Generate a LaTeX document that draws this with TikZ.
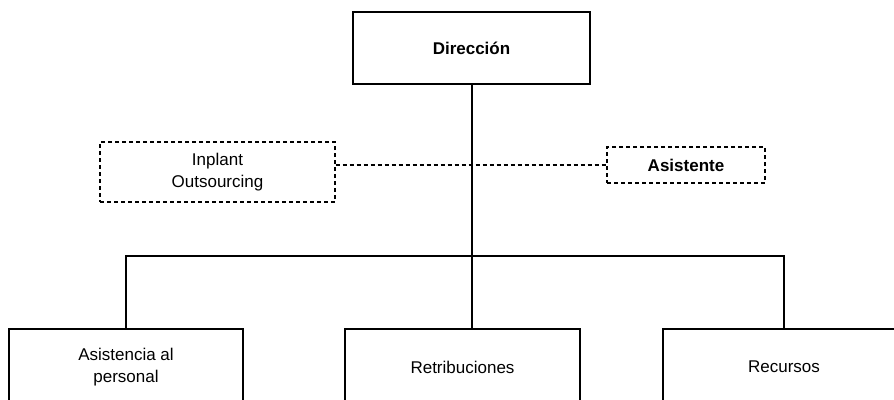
\documentclass[tikz,border=0pt]{standalone}
\usepackage{fontspec}
\setmainfont{Liberation Sans}
\begin{document}
\begin{tikzpicture}[x=1pt,y=-1pt,
  solidbox/.style={draw, line width=2pt, inner sep=0pt, align=center,
    font=\fontsize{17}{21.5}\selectfont},
  dashbox/.style={draw, line width=1.3pt, dash pattern=on 4pt off 3pt,
    inner sep=0pt, align=center, font=\fontsize{17}{21.5}\selectfont},
  link/.style={line width=2pt},
  dashlink/.style={line width=1.3pt, dash pattern=on 4pt off 3pt}]
  \useasboundingbox (0,0) rectangle (894,399);
  \clip (0,0) rectangle (894,399);
  % top box
  \node[solidbox, minimum width=237pt, minimum height=72pt] (dir) at (471.5,48) {\textbf{Dirección}};
  % staff units drawn with dashed outlines
  \node[dashbox, minimum width=235pt, minimum height=60pt] (inp) at (217.5,172) {Inplant\\Outsourcing};
  \node[dashbox, minimum width=158pt, minimum height=36pt] (asi) at (686,165) {\textbf{Asistente}};
  % lower departments (run past the lower edge)
  \node[solidbox, minimum width=234pt, minimum height=76pt] (ap) at (126,367) {Asistencia al\\personal};
  \node[solidbox, minimum width=235pt, minimum height=76pt] (ret) at (462.5,367) {Retribuciones};
  \node[solidbox, minimum width=242pt, minimum height=76pt] (rec) at (784,367) {Recursos};
  \coordinate (bus) at (0,256);
  % connectors
  \draw[dashlink] (inp.east |- asi.west) -- (asi.west);
  \draw[link] (dir.south) -- (dir.south |- ret.north);
  \draw[link] (ap.north) -- (ap.north |- bus) -- (rec.north |- bus) -- (rec.north);
\end{tikzpicture}
\end{document}
